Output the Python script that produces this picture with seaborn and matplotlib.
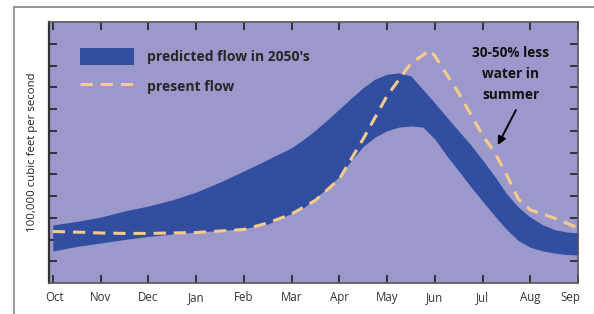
import numpy as np
import pandas as pd
import matplotlib
matplotlib.use("Agg")
import matplotlib.pyplot as plt
import matplotlib.transforms as mtransforms
import seaborn as sns
from matplotlib.patches import Patch
from matplotlib.lines import Line2D

# Datos (meses desde Oct = 0)
meses = ["Oct", "Nov", "Dec", "Jan", "Feb", "Mar", "Apr", "May", "Jun", "Jul", "Aug", "Sep"]

banda_x = [0, 0.5, 1, 1.5, 2, 2.5, 3, 3.5, 4, 4.5,
           5, 5.25, 5.5, 5.75, 6, 6.25, 6.5, 6.75, 7, 7.25, 7.5, 7.75, 8, 8.25,
           8.5, 8.75, 9, 9.25, 9.5, 9.75, 10, 10.25, 10.5, 10.75, 11]
banda_sup = [2.67, 2.83, 3.03, 3.31, 3.54, 3.82, 4.18, 4.64, 5.15, 5.68,
             6.22, 6.60, 7.03, 7.50, 8.00, 8.50, 8.98, 9.38, 9.60, 9.66, 9.52, 8.90, 8.28, 7.63,
             6.99, 6.36, 5.66, 4.92, 4.12, 3.49, 3.03, 2.69, 2.46, 2.35, 2.30]
banda_inf = [1.47, 1.68, 1.84, 2.00, 2.14, 2.25, 2.34, 2.41, 2.50, 2.71,
             3.20, 3.45, 3.90, 4.37, 4.90, 5.62, 6.28, 6.71, 7.00, 7.17, 7.22, 7.17, 6.62, 5.85,
             5.15, 4.44, 3.76, 3.10, 2.47, 1.95, 1.64, 1.48, 1.38, 1.31, 1.29]

actual_x = [0, 0.5, 1, 1.5, 2, 2.5, 3, 3.5, 4, 4.5, 5, 5.5, 6, 6.5, 7, 7.5,
            7.9, 8, 8.5, 9, 9.25, 9.5, 9.75, 10, 10.5, 11]
actual_y = [2.37, 2.34, 2.30, 2.28, 2.28, 2.30, 2.32, 2.39, 2.46, 2.76, 3.17, 3.80,
            4.78, 6.62, 8.60, 10.10, 10.70, 10.44, 8.74, 6.80, 6.02, 5.00, 3.86, 3.36,
            2.99, 2.53]

df = pd.DataFrame({"mes": actual_x, "caudal": actual_y})

fondo = "#9b99cc"
azul = "#324ea1"
naranja = "#f8cb8c"

sns.set_theme(style="white")
plt.rcParams['font.family'] = ['Open Sans', 'DejaVu Sans']

fig = plt.figure(figsize=(5.94, 3.14), dpi=100)
ax = fig.add_axes([49 / 594, 31 / 314, 529 / 594, 261 / 314])
ax.set_facecolor(fondo)

ax.fill_between(banda_x, banda_inf, banda_sup, color=azul, linewidth=0, zorder=2)
sns.lineplot(data=df, x="mes", y="caudal", ax=ax, color=naranja, linewidth=2.2,
             linestyle=(0, (4, 2.6)), zorder=3)

ax.set_xlim(-0.08, 10.98)
ax.set_ylim(0, 12)
ax.set_xticks(range(12))
ax.set_xticklabels(meses, fontsize=8.3, color="#333333")
ax.set_yticks(range(1, 12))
ax.set_yticklabels([])
ax.set_xlabel("")
ax.set_ylabel("100,000 cubic feet per second", fontsize=8.2, color="#222222", labelpad=2)
ax.tick_params(axis="both", direction="in", length=6, width=1.2, color="#222222",
               top=True, right=True, bottom=True, left=True, pad=6)
for lado in ["top", "right", "bottom"]:
    ax.spines[lado].set_color("#555555")
    ax.spines[lado].set_linewidth(1.2)
ax.spines["left"].set_color("#333333")
ax.spines["left"].set_linewidth(1.6)

# mover un poco las etiquetas de los extremos
etiquetas = ax.get_xticklabels()
etiquetas[0].set_transform(etiquetas[0].get_transform() +
                           mtransforms.ScaledTranslation(2 / 100, 0, fig.dpi_scale_trans))
etiquetas[-1].set_transform(etiquetas[-1].get_transform() +
                            mtransforms.ScaledTranslation(-8 / 100, 0, fig.dpi_scale_trans))

handles = [Patch(facecolor=azul, edgecolor="none"),
           Line2D([0], [0], color=naranja, linewidth=2.2, linestyle=(0, (4, 2.6)))]
ax.legend(handles, ["predicted flow in 2050's", "present flow"], loc="upper left",
          bbox_to_anchor=(0.0586, 0.90), frameon=False, borderpad=0, borderaxespad=0,
          handlelength=3.9, handleheight=1.5, handletextpad=0.95, labelspacing=0.9,
          prop={"size": 10, "weight": "bold"})

ax.text(9.59, 9.6, "30-50% less\nwater in\nsummer", ha="center", va="center",
        fontsize=9.8, fontweight="bold", linespacing=1.65, color="#111111")
ax.annotate("", xy=(9.32, 6.34), xytext=(9.70, 7.95),
            arrowprops=dict(arrowstyle="-|>", color="black", lw=1.4,
                            shrinkA=0, shrinkB=0, mutation_scale=12))

# marco exterior
fig.add_artist(Line2D([14 / 594, 1], [1 - 7 / 314, 1 - 7 / 314], color="#888888", lw=1.2))
fig.add_artist(Line2D([14 / 594, 14 / 594], [0, 1 - 7 / 314], color="#888888", lw=1.2))

fig.savefig("out.png", dpi=100, facecolor="white")
